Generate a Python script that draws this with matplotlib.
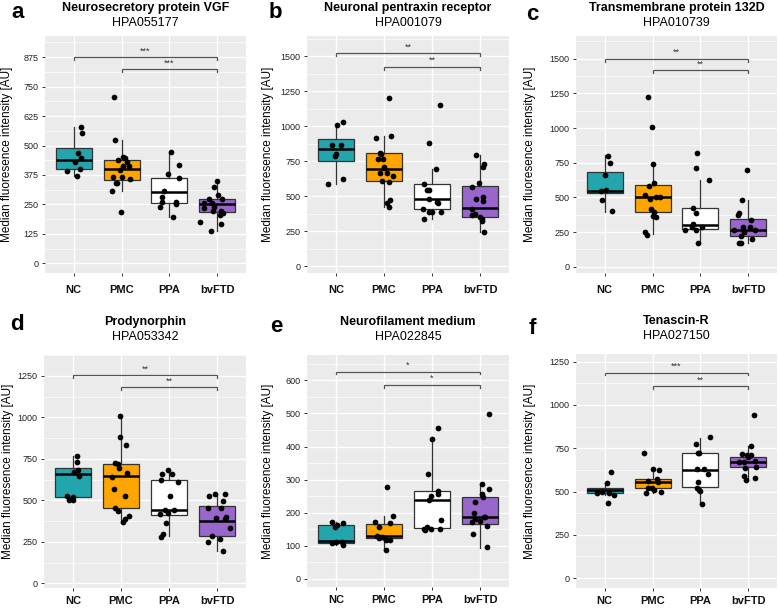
import matplotlib
matplotlib.use("Agg")
import matplotlib.pyplot as plt
from matplotlib.ticker import MultipleLocator

plt.rcParams["font.family"] = ["Liberation Sans", "DejaVu Sans"]

W, H = 778, 609

groups = ["NC", "PMC", "PPA", "bvFTD"]
group_colors = ["#22A5AD", "#FFA500", "#FFFFFF", "#9966CC"]

# ---- a: Neurosecretory protein VGF ----
a_vals = [
    [580, 555, 467, 447, 429, 402, 392, 372],
    [706, 522, 439, 453, 446, 429, 415, 415, 396, 368, 368, 360, 343, 343, 307, 219],
    [474, 418, 379, 362, 309, 280, 262, 260, 253, 241, 195],
    [350, 326, 289, 272, 272, 258, 255, 241, 234, 222, 221, 215, 205, 177, 166, 137],
]
a_jit = [
    [0.15, 0.17, 0.08, 0.15, 0.03, 0.14, -0.13, 0.06],
    [-0.15, -0.13, -0.08, 0.02, 0.08, 0.11, 0.03, 0.15, -0.03, -0.17, 0.0, 0.18, -0.12, -0.10, -0.19, -0.02],
    [0.03, 0.19, -0.03, 0.19, -0.12, -0.16, -0.15, 0.13, 0.14, -0.19, 0.08],
    [-0.01, -0.07, 0.01, -0.17, 0.10, -0.28, -0.11, -0.06, -0.28, 0.08, -0.09, 0.12, 0.06, -0.36, 0.08, -0.14],
]
a_q1 = [399, 355, 258, 217]
a_med = [439, 401, 303, 252]
a_q3 = [491, 437, 361, 275]
a_lo = [372, 307, 195, 137]
a_hi = [580, 522, 474, 350]
a_brackets = [875, 824]
a_stars = ["***", "***"]

# ---- b: Neuronal pentraxin receptor ----
b_vals = [
    [1031, 1007, 867, 862, 800, 786, 619, 588],
    [1202, 929, 914, 810, 800, 767, 762, 710, 698, 662, 662, 645, 610, 602, 471, 452, 419],
    [1148, 876, 695, 586, 545, 543, 479, 455, 452, 407, 388, 386, 386, 333],
    [793, 726, 710, 590, 567, 495, 476, 462, 410, 374, 364, 352, 338, 319, 240],
]
b_jit = [
    [0.15, 0.03, -0.08, 0.10, 0.0, -0.01, 0.15, -0.17],
    [0.10, 0.14, -0.16, -0.09, -0.07, -0.13, -0.03, 0.01, 0.0, -0.09, 0.06, 0.19, -0.05, 0.11, 0.13, 0.06, 0.10],
    [0.17, -0.06, 0.09, -0.17, -0.11, -0.07, -0.06, 0.10, 0.12, -0.19, -0.06, 0.0, 0.19, -0.16],
    [-0.08, 0.09, 0.06, -0.03, -0.17, 0.05, -0.08, 0.05, -0.17, -0.11, -0.17, 0.0, 0.03, 0.04, 0.07],
]
b_q1 = [748, 607, 407, 352]
b_med = [836, 690, 479, 412]
b_q3 = [905, 805, 583, 574]
b_lo = [588, 419, 333, 240]
b_hi = [1010, 930, 695, 793]
b_brackets = [1519, 1424]
b_stars = ["**", "**"]

# ---- c: Transmembrane protein 132D ----
c_vals = [
    [798, 748, 661, 553, 546, 481, 401],
    [1221, 1007, 743, 606, 584, 519, 488, 502, 505, 416, 392, 365, 361, 248, 228],
    [817, 709, 625, 421, 389, 305, 288, 264, 264, 288, 171],
    [695, 481, 385, 373, 337, 288, 288, 264, 262, 248, 219, 197, 173, 168],
]
c_jit = [
    [0.07, 0.12, 0.0, 0.03, -0.08, -0.06, 0.16],
    [-0.10, -0.02, 0.0, 0.03, -0.08, -0.16, -0.05, 0.07, 0.15, -0.03, 0.02, 0.01, 0.07, -0.16, -0.12],
    [-0.08, -0.10, 0.17, -0.15, -0.10, -0.15, -0.18, -0.33, -0.10, 0.04, -0.06],
    [-0.02, -0.13, -0.19, -0.22, 0.05, -0.12, 0.03, -0.30, 0.13, -0.09, -0.16, 0.07, -0.19, -0.16],
]
c_q1 = [529, 392, 274, 221]
c_med = [548, 502, 298, 262]
c_q3 = [683, 589, 421, 344]
c_lo = [397, 233, 171, 168]
c_hi = [805, 743, 625, 481]
c_brackets = [1500, 1418]
c_stars = ["**", "**"]

# ---- d: Prodynorphin ----
d_vals = [
    [770, 734, 684, 670, 644, 526, 520, 504, 504],
    [1010, 884, 836, 726, 722, 698, 640, 664, 566, 526, 456, 436, 406, 370, 386],
    [682, 656, 656, 620, 610, 528, 416, 440, 440, 426, 362, 300, 282],
    [526, 540, 536, 498, 454, 452, 402, 392, 386, 336, 286, 266, 252, 192],
]
d_jit = [
    [0.08, 0.08, 0.10, 0.03, 0.13, -0.12, 0.0, -0.09, 0.01],
    [-0.03, -0.01, 0.10, -0.12, -0.07, -0.05, -0.18, 0.12, -0.14, 0.09, -0.12, -0.07, 0.16, 0.05, 0.09],
    [-0.03, -0.15, 0.06, -0.17, 0.19, 0.02, -0.19, -0.08, 0.11, -0.03, -0.06, -0.12, -0.17],
    [-0.17, -0.04, 0.17, 0.13, -0.18, 0.07, 0.19, -0.02, 0.17, 0.27, -0.10, 0.06, -0.19, 0.12],
]
d_q1 = [520, 452, 412, 288]
d_med = [658, 646, 442, 374]
d_q3 = [696, 722, 620, 464]
d_lo = [500, 370, 286, 192]
d_hi = [766, 1010, 682, 534]
d_brackets = [1256, 1182]
d_stars = ["**", "**"]

# ---- e: Neurofilament medium ----
e_vals = [
    [172, 170, 162, 158, 110, 110, 107, 103],
    [278, 190, 173, 170, 156, 128, 127, 126, 124, 124, 118, 116, 86],
    [457, 424, 317, 265, 255, 250, 237, 177, 156, 152, 152, 150, 146],
    [498, 287, 271, 257, 247, 233, 200, 187, 186, 180, 174, 173, 159, 134, 95],
]
e_jit = [
    [-0.08, 0.15, 0.03, -0.02, 0.01, 0.12, -0.08, 0.14],
    [0.06, 0.19, -0.19, 0.13, -0.10, -0.15, -0.10, -0.04, 0.02, -0.11, 0.13, 0.04, 0.04],
    [0.12, -0.01, -0.08, 0.13, 0.12, -0.02, -0.07, 0.19, -0.11, 0.17, -0.03, -0.17, -0.15],
    [0.19, 0.03, 0.19, 0.03, 0.06, -0.10, -0.12, 0.09, 0.10, -0.11, 0.0, -0.17, 0.15, -0.15, 0.15],
]
e_q1 = [109, 123, 154, 166]
e_med = [113, 130, 237, 187]
e_q3 = [163, 166, 264, 248]
e_lo = [103, 86, 143, 94]
e_hi = [172, 190, 428, 287]
e_brackets = [627, 587]
e_stars = ["*", "*"]

# ---- f: Tenascin-R ----
f_vals = [
    [610, 551, 500, 490, 492, 479, 431],
    [725, 630, 624, 561, 572, 553, 519, 506, 500, 490, 523],
    [813, 775, 725, 723, 630, 628, 603, 553, 523, 511, 504, 429],
    [943, 763, 717, 710, 710, 697, 670, 672, 679, 635, 643, 588, 567, 580],
]
f_jit = [
    [0.14, 0.04, -0.06, -0.17, 0.08, 0.19, 0.06],
    [-0.18, 0.01, 0.14, -0.10, 0.09, 0.12, -0.10, 0.03, 0.18, -0.13, -0.02],
    [0.21, -0.10, -0.03, -0.06, -0.07, 0.08, 0.16, -0.06, -0.08, -0.03, -0.01, 0.03],
    [0.12, 0.05, -0.13, -0.03, 0.06, -0.01, -0.19, -0.09, 0.14, -0.07, 0.17, -0.10, -0.05, 0.15],
]
f_q1 = [490, 523, 529, 643]
f_med = [509, 555, 622, 672]
f_q3 = [521, 570, 725, 702]
f_lo = [479, 490, 429, 567]
f_hi = [551, 624, 811, 761]
f_brackets = [1187, 1107]
f_stars = ["***", "**"]

letters = ["a", "b", "c", "d", "e", "f"]
titles = ["Neurosecretory protein VGF", "Neuronal pentraxin receptor", "Transmembrane protein 132D",
          "Prodynorphin", "Neurofilament medium", "Tenascin-R"]
antibodies = ["HPA055177", "HPA001079", "HPA010739", "HPA053342", "HPA022845", "HPA027150"]
tick_steps = [125, 250, 250, 250, 100, 250]
tick_max = [875, 1500, 1500, 1250, 600, 1250]
ylims = [(-41, 965), (-50, 1643), (-45, 1664), (-28, 1376), (-25, 677), (-57, 1294)]

panels = [
    (a_vals, a_jit, a_q1, a_med, a_q3, a_lo, a_hi, a_brackets, a_stars),
    (b_vals, b_jit, b_q1, b_med, b_q3, b_lo, b_hi, b_brackets, b_stars),
    (c_vals, c_jit, c_q1, c_med, c_q3, c_lo, c_hi, c_brackets, c_stars),
    (d_vals, d_jit, d_q1, d_med, d_q3, d_lo, d_hi, d_brackets, d_stars),
    (e_vals, e_jit, e_q1, e_med, e_q3, e_lo, e_hi, e_brackets, e_stars),
    (f_vals, f_jit, f_q1, f_med, f_q3, f_lo, f_hi, f_brackets, f_stars),
]

# panel rectangles in pixels: left, top, right, bottom
rects = [(45, 36, 246, 273), (307, 36, 509, 273), (576, 36, 777, 273),
         (44, 355, 246, 588), (307, 355, 509, 587), (576, 354, 777, 588)]
letter_pos = [(18, 13), (275, 13), (532, 14), (17, 325), (276, 327), (532, 328)]
ylabel_x = [7, 268, 530, 8, 268, 530]


def draw_panel(fig, i):
    vals, jit, q1, med, q3, lo, hi, brackets, stars = panels[i]
    l, t, r, b = rects[i]
    ax = fig.add_axes([l / W, 1 - b / H, (r - l) / W, (b - t) / H])
    ax.set_facecolor("#EBEBEB")
    for s in ax.spines.values():
        s.set_visible(False)

    stats = []
    for k in range(4):
        stats.append({"q1": q1[k], "med": med[k], "q3": q3[k],
                      "whislo": lo[k], "whishi": hi[k], "fliers": []})
    bp = ax.bxp(stats, positions=[1, 2, 3, 4], widths=0.75, patch_artist=True,
                showfliers=False, showcaps=False,
                boxprops=dict(edgecolor="#333333", linewidth=0.9),
                whiskerprops=dict(color="#333333", linewidth=0.9),
                medianprops=dict(color="black", linewidth=1.8),
                zorder=2)
    for patch, col in zip(bp["boxes"], group_colors):
        patch.set_facecolor(col)

    for k in range(4):
        xs = [k + 1 + d for d in jit[k]]
        ax.scatter(xs, vals[k], s=17, color="black", zorder=3, linewidths=0)

    # significance brackets
    ymin, ymax = ylims[i]
    drop = (ymax - ymin) * 0.012
    for y, st, x0 in zip(brackets, stars, [1, 2]):
        ax.plot([x0, x0, 4, 4], [y - drop, y, y, y - drop], color="#555555",
                linewidth=0.9, zorder=2, solid_joinstyle="miter")
        ax.text((x0 + 4) / 2, y + drop * 0.6, st, ha="center", va="bottom",
                fontsize=6.5, color="#333333")

    ax.set_xlim(0.4, 4.6)
    ax.set_ylim(ymin, ymax)
    ax.yaxis.set_major_locator(MultipleLocator(tick_steps[i]))
    ax.yaxis.set_minor_locator(MultipleLocator(tick_steps[i] / 2))
    ax.set_yticks([v for v in range(0, tick_max[i] + 1, tick_steps[i])])
    ax.set_xticks([1, 2, 3, 4])
    ax.set_xticklabels(groups, fontweight="bold", fontsize=8)
    ax.grid(which="major", color="white", linewidth=1.0)
    ax.grid(which="minor", axis="y", color="white", linewidth=0.5)
    ax.set_axisbelow(True)
    ax.tick_params(axis="y", which="major", length=2.5, width=0.7, color="#333333",
                   labelsize=6.5, pad=2, labelcolor="#222222")
    ax.tick_params(axis="y", which="minor", length=0)
    ax.tick_params(axis="x", length=2.5, width=0.7, color="#333333",
                   pad=6 if i < 3 else 3.5, labelcolor="#111111")

    cx = (l + r) / 2
    top_off = 28 if i < 3 else 33
    fig.text(cx / W, 1 - (t - top_off) / H, titles[i], ha="center", va="center",
             fontsize=9, fontweight="bold")
    fig.text(cx / W, 1 - (t - top_off + 14.5) / H, antibodies[i], ha="center", va="center",
             fontsize=9)
    lx, ly = letter_pos[i]
    fig.text(lx / W, 1 - ly / H, letters[i], ha="center", va="center",
             fontsize=16, fontweight="bold")
    fig.text(ylabel_x[i] / W, 1 - ((t + b) / 2) / H, "Median fluoresence intensity [AU]",
             rotation=90, ha="center", va="center", fontsize=8.5)


def main() -> None:
    fig = plt.figure(figsize=(W / 100, H / 100), dpi=100)
    fig.patch.set_facecolor("white")
    for i in range(6):
        draw_panel(fig, i)
    fig.savefig("out.png", dpi=100)
    plt.close(fig)


if __name__ == "__main__":
    main()
